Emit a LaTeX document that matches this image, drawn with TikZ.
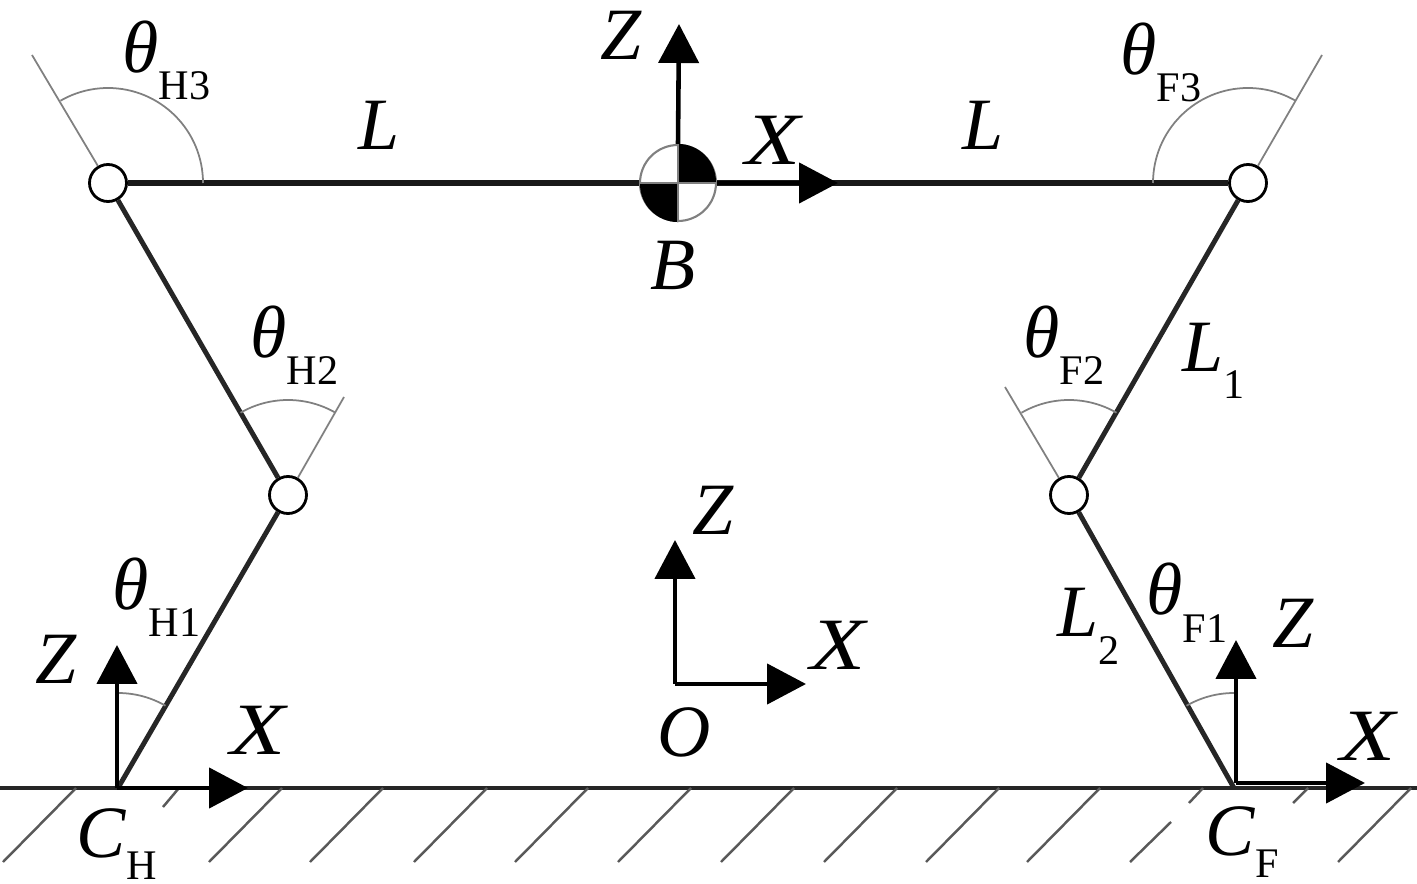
\documentclass[tikz,border=0pt]{standalone}
\usepackage{fontspec}
\setmainfont{Liberation Serif}
\usetikzlibrary{arrows.meta}

\newcommand{\sublbl}[3]{\textit{#1}\raisebox{-#3}{\fontsize{12}{12}\selectfont #2}}
\newcommand{\wideX}{\scalebox{1.22}[1]{\textit{X}}}

\begin{document}
\begin{tikzpicture}
        [joint/.style={circle,draw,fill=white,line width=0.8pt,minimum size=0.37cm,inner sep=0pt},
        cog/.style={circle,draw=gray,fill=white,line width=0.6pt,minimum size=0.76cm,inner sep=0pt},
        link/.style={line width=1.4pt, black!85},
        body/.style={line width=1.5pt, black!90},
        axis/.style={line width=1.3pt, black, -{Triangle[length=0.39cm,width=0.4cm]}},
        guide/.style={line width=0.5pt, black!50},
        ground/.style={line width=0.9pt, black!85},
        hatch/.style={line width=0.7pt, black!65},
        lbl/.style={anchor=base west, inner sep=0pt, font=\fontsize{21}{21}\selectfont}]

        \useasboundingbox (0,0) rectangle (14.17,8.83);

        % ground and hatching
        \coordinate (groundL) at (0,0.95);
        \coordinate (groundR) at (14.17,0.95);
        \draw[ground] (groundL) -- (groundR);
        \foreach \x in {0.76,2.82,3.83,4.87,5.88,6.91,7.94,8.97,9.99,11.00,14.11}
            \draw[hatch] (\x,0.95) -- ++(-0.73,-0.74);
        \draw[hatch] (1.79,0.95) -- ++(-0.16,-0.19);
        \draw[hatch] (12.03,0.95) -- ++(-0.14,-0.15);
        \draw[hatch] (13.08,0.95) -- ++(-0.15,-0.15);
        \draw[hatch] (11.71,0.61) -- (11.30,0.21);

        % joints
        \node[joint] (hipH) at (1.08,7.00) {};
        \node[joint] (hipF) at (12.48,7.00) {};
        \node[joint] (kneeH) at (2.88,3.88) {};
        \node[joint] (kneeF) at (10.69,3.88) {};
        \coordinate (footH) at (1.18,0.95);
        \coordinate (footF) at (12.34,0.95);
        \node[cog] (B) at (6.78,7.00) {};

        % free ends of the thin lines
        \coordinate (endH3) at (0.32,8.28);
        \coordinate (endF3) at (13.22,8.28);
        \coordinate (endH2) at (3.44,4.86);
        \coordinate (endF2) at (10.05,4.96);

        % body and legs
        \draw[body] (hipH) -- (B);
        \draw[body] (B) -- (hipF);
        \draw[link] (hipH) -- (kneeH);
        \draw[link] (kneeH) -- (footH);
        \draw[link] (hipF) -- (kneeF);
        \draw[link] (kneeF) -- (footF);

        % thin lines and angle arcs
        \draw[guide] (hipH) -- (endH3);
        \draw[guide] (hipF) -- (endF3);
        \draw[guide] (kneeH) -- (endH2);
        \draw[guide] (kneeF) -- (endF2);
        \draw[guide] (hipH.center) ++(0.95,0) arc (0:120:0.95);
        \draw[guide] (hipF.center) ++(-0.95,0) arc (180:60:0.95);
        \draw[guide] (kneeH.center) ++(60:0.95) arc (60:120:0.95);
        \draw[guide] (kneeF.center) ++(60:0.95) arc (60:120:0.95);
        \draw[guide] (footH) ++(90:0.95) arc (90:60:0.95);
        \draw[guide] (footF) ++(90:0.95) arc (90:120:0.95);

        % centre of mass mark
        \fill (B.center) -- (B.north) arc (90:0:0.38) -- cycle;
        \fill (B.center) -- (B.south) arc (270:180:0.38) -- cycle;
        \draw[guide] (B.north) -- (B.south);
        \draw[guide] (B.west) -- (B.east);

        % coordinate frames
        \coordinate (topZ) at (6.79,8.59);
        \coordinate (topX) at (8.38,7.00);
        \draw[axis] (B.north) -- (topZ);
        \draw[axis] (B.east) -- (topX);

        \coordinate (axisO) at (6.75,1.99);
        \coordinate (midZ) at (6.75,3.43);
        \coordinate (midX) at (8.06,1.99);
        \draw[axis] (axisO) -- (midZ);
        \draw[axis] (axisO) -- (midX);

        \coordinate (axisH) at (1.17,0.95);
        \coordinate (footHZ) at (1.17,2.38);
        \coordinate (footHX) at (2.48,0.95);
        \draw[axis] (axisH) -- (footHZ);
        \draw[axis] (axisH) -- (footHX);

        \coordinate (axisF) at (12.36,1.00);
        \coordinate (footFZ) at (12.36,2.43);
        \coordinate (footFX) at (13.65,1.00);
        \draw[axis] (axisF) -- (footFZ);
        \draw[axis] (axisF) -- (footFX);

        % labels
        \node[lbl] (lblTopZ) at (6.00,8.23) {\textit{Z}};
        \node[lbl] (lblTopX) at (7.45,7.18) {\wideX};
        \node[lbl] (lblL) at (3.58,7.33) {\textit{L}};
        \node[lbl] (lblLb) at (9.62,7.33) {\textit{L}};
        \node[lbl] (lblB) at (6.50,5.93) {\textit{B}};
        \node[lbl] (lblMidZ) at (6.92,3.48) {\textit{Z}};
        \node[lbl] (lblMidX) at (8.10,2.13) {\wideX};
        \node[lbl] (lblO) at (6.57,1.26) {\textit{O}};
        \node[lbl] (lblHZ) at (0.35,1.99) {\textit{Z}};
        \node[lbl] (lblHX) at (2.30,1.28) {\wideX};
        \node[lbl] (lblFZ) at (12.72,2.35) {\textit{Z}};
        \node[lbl] (lblFX) at (13.40,1.23) {\wideX};

        \node[lbl] (lblH3) at (1.22,8.10) {\sublbl{θ}{H3}{0.27cm}};
        \node[lbl] (lblF3) at (11.20,8.08) {\sublbl{θ}{F3}{0.27cm}};
        \node[lbl] (lblH2) at (2.50,5.25) {\sublbl{θ}{H2}{0.27cm}};
        \node[lbl] (lblF2) at (10.23,5.25) {\sublbl{θ}{F2}{0.27cm}};
        \node[lbl] (lblH1) at (1.12,2.73) {\sublbl{θ}{H1}{0.27cm}};
        \node[lbl] (lblF1) at (11.46,2.68) {\sublbl{θ}{F1}{0.27cm}};
        \node[lbl] (lblL1) at (11.82,5.11) {\sublbl{L}{1}{0.27cm}};
        \node[lbl] (lblL2) at (10.57,2.46) {\sublbl{L}{2}{0.27cm}};
        \node[lbl] (lblCH) at (0.76,0.26) {\sublbl{C}{H}{0.22cm}};
        \node[lbl] (lblCF) at (12.05,0.28) {\sublbl{C}{F}{0.22cm}};

    \end{tikzpicture}
\end{document}
